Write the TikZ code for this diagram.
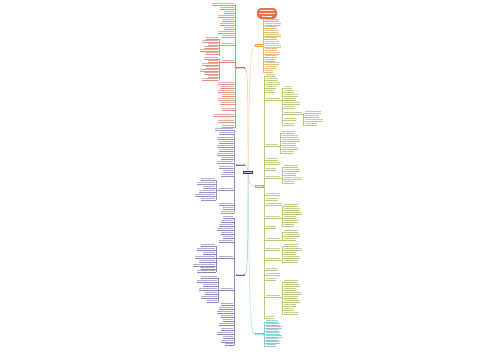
\documentclass[tikz,border=0pt]{standalone}
\begin{document}
\begin{tikzpicture}[x=1pt,y=-1pt]
\definecolor{cA}{HTML}{E3684C}\definecolor{cAl}{HTML}{F3B9AA}
\definecolor{cB}{HTML}{E9A23B}\definecolor{cBl}{HTML}{F4D39A}
\definecolor{cC}{HTML}{7A6AB5}\definecolor{cCl}{HTML}{C4BBE2}
\definecolor{cD}{HTML}{A9B63A}\definecolor{cDl}{HTML}{D3DB9A}
\definecolor{cE}{HTML}{5E5AA8}\definecolor{cEl}{HTML}{B5B3DA}
\definecolor{cF}{HTML}{55BFD0}\definecolor{cFl}{HTML}{A8E0EA}
\definecolor{navy}{HTML}{2E3358}
\definecolor{topbox}{HTML}{EC6F47}
\tikzset{ul/.style={line width=0.25pt},sp/.style={line width=0.3pt},
  bnode/.style={minimum width=9pt,minimum height=2.6pt,inner sep=0pt}}
\newcommand\leafR[4]{\draw[#4!75,ul] (#1,#2) -- ({#1+1.5+#3},#2);
  \fill[#4!55!gray!55] ({#1+1.5},{#2-1.9}) rectangle ({#1+1.5+#3},{#2-0.8});}
\newcommand\leafL[4]{\draw[#4!75,ul] (#1,#2) -- ({#1-1.5-#3},#2);
  \fill[#4!55!gray!55] ({#1-1.5-#3},{#2-1.9}) rectangle ({#1-1.5},{#2-0.8});}
\newcommand\kidsR[5]{\draw[#2!75,sp] (#1,#3) -- (#1,#4);
  \foreach \yy/\ww in {#5} {\leafR{#1}{\yy}{\ww}{#2}}}
\newcommand\kidsL[5]{\draw[#2!75,sp] (#1,#3) -- (#1,#4);
  \foreach \yy/\ww in {#5} {\leafL{#1}{\yy}{\ww}{#2}}}
\newcommand\subR[5]{\leafR{#1}{#2}{#3}{#4}\draw[#4!75,ul] ({#1+1.5+#3},#2) -- (#5,#2);}
\newcommand\subL[5]{\leafL{#1}{#2}{#3}{#4}\draw[#4!75,ul] ({#1-1.5-#3},#2) -- (#5,#2);}

\fill[white] (0,0) rectangle (500,360);
\useasboundingbox (0,0) rectangle (500,360);

% centre and branch nodes
\node[bnode,fill=navy,minimum width=10pt,minimum height=3.2pt] (c) at (248,172.5) {};
\node[bnode,fill=cA] (A) at (240.5,68) {};
\node[bnode,fill=cB] (B) at (259.5,45.2) {};
\node[bnode,fill=cC] (C) at (240,164.8) {};
\node[bnode,fill=cD] (D) at (259.5,186.2) {};
\node[bnode,fill=cE] (E) at (240,274.8) {};
\node[bnode,fill=cF] (F) at (259.5,334) {};
\node[fill=topbox,rounded corners=4pt,minimum width=20pt,minimum height=11pt,inner sep=0pt] (T) at (267,13.5) {};
\foreach \n in {c,A,B,C,D,E,F} {\fill[white,opacity=0.75] ([xshift=1.2pt,yshift=0.4pt]\n.west) rectangle ([xshift=-1.2pt,yshift=-0.4pt]\n.east);}
\fill[white!85!topbox] (260,10) rectangle (274,11); \fill[white!85!topbox] (259,12.8) rectangle (275,13.8); \fill[white!85!topbox] (262,15.6) rectangle (272,16.6);

% curves from centre
\draw[cAl,line width=0.5pt] (c.north) .. controls (248,100) and (248,68) .. (A.east);
\draw[cBl,line width=0.5pt] (c.north) .. controls (249.5,90) and (249.5,45.2) .. (B.west);
\draw[cCl,line width=0.5pt] (c.north) .. controls (247,166) and (246,164.8) .. (C.east);
\draw[cDl,line width=0.5pt] (c.south) .. controls (249,182) and (250,186.2) .. (D.west);
\draw[cEl,line width=0.5pt] (c.south) .. controls (248,240) and (248,274.8) .. (E.east);
\draw[cFl,line width=0.5pt] (c.south) .. controls (249.5,290) and (249.5,334) .. (F.west);
\coordinate (Bs) at (263,45.2); \draw[cB!75,ul] (B.east) -- (Bs);
\coordinate (Ds) at (264,186.2); \draw[cD!75,ul] (D.east) -- (Ds);
\coordinate (Fs) at (264,334); \draw[cF!75,ul] (F.east) -- (Fs);
\coordinate (As) at (235,68); \draw[cA!75,ul] (A.west) -- (As);
\coordinate (Cs) at (234,164.8); \draw[cC!75,ul] (C.west) -- (Cs);
\coordinate (Es) at (234,274.8); \draw[cE!75,ul] (E.west) -- (Es);
\draw[cB!75,ul] (T.south -| Bs) -- (Bs);

% ---------- branch A (left, top) ----------
\kidsL{235}{cA}{5}{128}{5/22,9/14,13/10,17/16,21/12,25/14,29/10,33/16,37/12,84/16,88/14,92/16,96/12,100/16,104/14,110/12,116/20,122/16,127/12}
\subL{235}{45}{12}{cA}{219}
\kidsL{219}{cA}{39}{56}{39/12,42/16,45/10,48/14,51/18,54/12}
\subL{235}{62}{12}{cA}{219}
\kidsL{219}{cA}{59}{80}{59/14,62/10,65/16,68/12,71/18,74/14,77/10,80/16}

% ---------- branch C (left, middle) ----------
\kidsL{234}{cC}{130}{213}{130/18,134/14,139/16,143/14,147/16,151/14,155/16,159/12,163/16,168/14,172/10,176/12,205/14,209/10,213/12}
\subL{234}{190}{14}{cC}{216}
\kidsL{216}{cC}{180}{200}{180/14,184/18,188/12,192/16,196/20,200/14}

% ---------- branch E (left, bottom) ----------
\kidsL{234}{cE}{218}{345}{218/10,222/12,226/14,230/16,234/12,238/10,242/14,305/12,309/14,313/16,317/12,321/10,325/14,330/12,334/16,338/10,342/12,345/8}
\subL{234}{258}{14}{cE}{216}
\kidsL{216}{cE}{246}{272}{246/14,250/18,254/12,258/20,262/16,266/22,269/14,272/18}
\subL{234}{290}{12}{cE}{218}
\kidsL{218}{cE}{278}{302}{278/16,282/20,286/14,290/18,294/12,298/16,302/10}

% ---------- branch B (right, top) ----------
\kidsR{263}{cB}{21}{72}{21/14,25/16,28/12,32/14,36/16,39/12,43/14,47/16,50/12,54/14,57/12,61/10,64/14,68/12,72/8}

% ---------- branch D (right, long) ----------
\kidsR{264}{cD}{76}{318}{76/10,80/12,84/14,88/10,92/8,160/12,164/14,170/10,195/14,200/12,205/16,228/10,250/14,270/12,275/14,280/10,318/8}
\subR{264}{100}{14}{cD}{282}
\kidsR{282}{cD}{88}{125}{88/8,92/10,96/14,100/12,104/16,108/10,114/18,120/12,125/10}
\kidsR{303}{cD}{113}{125}{113/16,117/14,121/18,125/12}
\draw[cD!75,ul] (301.5,114) -- (303,114);
\subR{264}{146}{12}{cD}{280}
\kidsR{280}{cD}{133}{153}{133/12,137/16,141/18,145/14,149/16,153/12}
\subR{264}{178}{14}{cD}{282}
\kidsR{282}{cD}{167}{183}{167/14,171/16,175/12,179/18,183/10}
\subR{264}{218}{14}{cD}{282}
\kidsR{282}{cD}{206}{226}{206/14,210/16,214/18,218/12,222/14,226/10}
\subR{264}{240}{14}{cD}{282}
\kidsR{282}{cD}{232}{240}{232/14,236/16,240/12}
\subR{264}{260}{14}{cD}{282}
\kidsR{282}{cD}{246}{262}{246/14,250/18,254/12,258/16,262/14}
\subR{264}{297}{14}{cD}{282}
\kidsR{282}{cD}{282}{314}{282/14,286/16,290/12,294/18,298/14,302/16,306/12,310/10,314/14}

% ---------- branch F (right, bottom) ----------
\kidsR{264}{cF}{322}{346}{322/12,325/14,328/16,331/12,334/14,337/16,340/12,343/14,346/10}
\end{tikzpicture}
\end{document}
